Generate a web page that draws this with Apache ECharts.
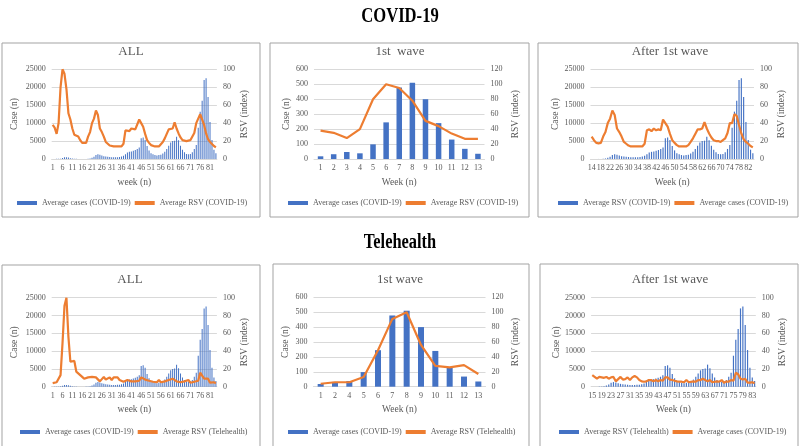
<!DOCTYPE html>
<html><head><meta charset="utf-8">
<script src="https://cdn.jsdelivr.net/npm/echarts@6/dist/echarts.min.js"></script>
<style>html,body{margin:0;padding:0;background:#fff}#c{width:800px;height:446px}</style>
</head><body><div id="c"></div>
<script>
// ---------- DATA ----------
const weeksAll = [1,2,3,4,5,6,7,8,9,10,11,12,13,14,15,16,17,18,19,20,21,22,23,24,25,26,27,28,29,30,31,32,33,34,35,36,37,38,39,40,41,42,43,44,45,46,47,48,49,50,51,52,53,54,55,56,57,58,59,60,61,62,63,64,65,66,67,68,69,70,71,72,73,74,75,76,77,78,79,80,81,82,83,84];
const casesAll = [18,32,47,38,98,245,478,510,400,240,130,68,35,
  20,15,12,15,30,60,150,350,650,1100,1300,1150,950,800,700,600,550,500,480,500,520,580,700,900,1300,1800,2000,2100,2300,2500,2800,3200,5800,6000,5300,3600,2400,1600,1300,1100,1000,1100,1200,1500,2000,2800,3700,4600,5000,5100,6200,5200,3700,2600,1900,1400,1300,1400,1900,2800,3900,8700,13200,16200,22000,22500,17300,10300,5300,2600,1600];
const rsvCovidAll = [38,35,28,40,80,100,95,78,51,44,34,27,27,
  25,21,18,17.5,18,25,30,40,45,54,49,34,30,25,19,17,15,14,14,14,14,14,14,17,32,33,31,34,32,33,32,44,40,36,28,21,18,15.5,14,14,14,14,15.5,19,23,28,33,33,34,41,34,28.5,24,21,20,20,19,21,23,29,40,40,50,48,38,28.5,22,19,17,14.5,13];
const rsvTeleAll = [4,6,5,6,13,49,91,100,56,28,26,29,17,
  15,13,11,9,11,10.5,10,11,9,10.5,11,6,8.5,11,8,8.5,10.5,7.5,10.5,12,10.5,7.5,6,5.6,6,7.5,7.5,6,7.5,6,7.5,6.7,10.5,10.5,8,7.5,6.7,6,5.6,5.6,5,7.5,5,5.6,6,5.6,7.5,7.5,9,7.5,6,7.5,5,5.6,6,5.6,7.5,4.5,6,5.6,7.5,6.7,15.7,14,9,8,9,4.5,4.5,5,4];

const wave1Weeks = [1,2,3,4,5,6,7,8,9,10,11,12,13];
const wave1Cases = [18,32,47,38,98,245,478,510,400,240,130,68,35];
const wave1RsvCovid = [38,35,28,40,80,100,95,78,51,44,34,27,27];

const wave1TeleWeeks = [1,2,4,5,6,7,8,9,10,11,12,13];
const wave1TeleCases = [18,32,38,98,245,478,510,400,240,130,68,35];
const wave1RsvTele = [4,6,6,13,49,91,100,56,28,26,29,17];

const afterCovidFirstWeek = 14;
const afterTeleFirstWeek = 15;

const afterCovidWeeks = weeksAll.slice(afterCovidFirstWeek - 1);
const afterCovidCases = casesAll.slice(afterCovidFirstWeek - 1);
const afterCovidRsv = rsvCovidAll.slice(afterCovidFirstWeek - 1);
const afterTeleWeeks = weeksAll.slice(afterTeleFirstWeek - 1);
const afterTeleCases = casesAll.slice(afterTeleFirstWeek - 1);
const afterTeleRsv = rsvTeleAll.slice(afterTeleFirstWeek - 1);

// ---------- STYLE ----------
const FONT = 'Liberation Serif';
const GREY = '#595959';
const BLUE = '#4472C4';
const ORANGE = '#ED7D31';

const panels = [
  {grid:{left:51.7,top:69.3,width:165.2,height:89.7}, cats:weeksAll, bars:casesAll, line:rsvCovidAll,
   lMax:25000,lInt:5000,rMax:100,rInt:20,xInt:4,xName:'week (n)',barW:'50%',
   barLbl:'Average cases (COVID-19)',lineLbl:'Average RSV (COVID-19)',legLeft:17,legTop:199,
   cGap:32,rGap:23,xGap:18,title:'ALL',tx:131,ty:52,box:[2,43,258,174]},
  {grid:{left:314,top:69.3,width:170.5,height:89.7}, cats:wave1Weeks, bars:wave1Cases, line:wave1RsvCovid,
   lMax:600,lInt:100,rMax:120,rInt:20,xInt:0,xName:'Week (n)',barW:'42%',
   barLbl:'Average cases (COVID-19)',lineLbl:'Average RSV (COVID-19)',legLeft:288,legTop:199,
   cGap:23,rGap:25.5,xGap:18,title:'1st  wave',tx:400,ty:52,box:[270,43,259,174]},
  {grid:{left:590.5,top:69.3,width:163.5,height:89.7}, cats:afterCovidWeeks, bars:afterCovidCases, line:afterCovidRsv,
   lMax:25000,lInt:5000,rMax:100,rInt:20,xInt:3,xName:'Week (n)',barW:'50%',
   barLbl:'Average RSV (COVID-19)',lineLbl:'Average cases (COVID-19)',legLeft:558,legTop:199,
   cGap:29,rGap:22.7,xGap:18,title:'After 1st wave',tx:670,ty:52,box:[538,43,260,174]},
  {grid:{left:51.7,top:297.7,width:165.2,height:89}, cats:weeksAll, bars:casesAll, line:rsvTeleAll,
   lMax:25000,lInt:5000,rMax:100,rInt:20,xInt:4,xName:'week (n)',barW:'50%',
   barLbl:'Average cases (COVID-19)',lineLbl:'Average RSV (Telehealth)',legLeft:20,legTop:428,
   cGap:32,rGap:23,xGap:17.5,title:'ALL',tx:130,ty:280,box:[2,265,258,190]},
  {grid:{left:313.5,top:297.3,width:172,height:89.4}, cats:wave1TeleWeeks, bars:wave1TeleCases, line:wave1RsvTele,
   lMax:600,lInt:100,rMax:120,rInt:20,xInt:0,xName:'Week (n)',barW:'42%',
   barLbl:'Average cases (COVID-19)',lineLbl:'Average RSV (Telehealth)',legLeft:288,legTop:428,
   cGap:23,rGap:24.5,xGap:17.5,title:'1st wave',tx:400,ty:280,box:[273,264,256,190]},
  {grid:{left:591.1,top:297.7,width:164.7,height:89}, cats:afterTeleWeeks, bars:afterTeleCases, line:afterTeleRsv,
   lMax:25000,lInt:5000,rMax:100,rInt:20,xInt:3,xName:'Week (n)',barW:'50%',
   barLbl:'Average RSV (Telehealth)',lineLbl:'Average cases (COVID-19)',legLeft:559,legTop:428,
   cGap:29,rGap:22,xGap:17.5,title:'After 1st wave',tx:670,ty:280,box:[540,264,258,190]}
];

const labelMap = {};
const grids = [], xAxes = [], yAxes = [], series = [], legends = [], graphics = [];
const plain = v => String(v);

panels.forEach((p, i) => {
  grids.push(Object.assign({containLabel:false}, p.grid));
  xAxes.push({
    type:'category', gridIndex:i, data:p.cats.map(String),
    name:p.xName, nameLocation:'middle', nameGap:p.xGap,
    nameTextStyle:{fontFamily:FONT,fontSize:9.5,color:GREY},
    axisLine:{show:true,lineStyle:{color:'#d9d9d9',width:1}},
    axisTick:{show:false},
    axisLabel:{interval:p.xInt,fontFamily:FONT,fontSize:8,color:GREY,margin:5}
  });
  yAxes.push({
    type:'value', gridIndex:i, position:'left', min:0, max:p.lMax, interval:p.lInt,
    name:'Case (n)', nameLocation:'middle', nameGap:p.cGap,
    nameTextStyle:{fontFamily:FONT,fontSize:9.5,color:GREY},
    axisLine:{show:false}, axisTick:{show:false},
    axisLabel:{fontFamily:FONT,fontSize:8,color:GREY,margin:6,formatter:plain},
    splitLine:{show:true,lineStyle:{color:'#d9d9d9',width:1}}
  });
  yAxes.push({
    type:'value', gridIndex:i, position:'right', min:0, max:p.rMax, interval:p.rInt,
    name:'RSV (index)', nameLocation:'middle', nameGap:p.rGap,
    nameTextStyle:{fontFamily:FONT,fontSize:9.5,color:GREY},
    axisLine:{show:false}, axisTick:{show:false},
    axisLabel:{fontFamily:FONT,fontSize:8,color:GREY,margin:6,formatter:plain},
    splitLine:{show:false}
  });
  const bName = 'bar' + i, lName = 'line' + i;
  labelMap[bName] = p.barLbl; labelMap[lName] = p.lineLbl;
  series.push({
    type:'bar', name:bName, xAxisIndex:i, yAxisIndex:2*i, data:p.bars,
    barWidth:p.barW, itemStyle:{color:BLUE}, animation:false
  });
  series.push({
    type:'line', name:lName, xAxisIndex:i, yAxisIndex:2*i+1, data:p.line,
    symbol:'none', lineStyle:{color:ORANGE,width:2.2}, itemStyle:{color:ORANGE}, animation:false
  });
  legends.push({
    data:[{name:bName,icon:'rect'},{name:lName,icon:'rect'}],
    left:p.legLeft, top:p.legTop, itemWidth:20, itemHeight:4, itemGap:4,
    padding:0, selectedMode:false,
    formatter:n => labelMap[n],
    textStyle:{fontFamily:FONT,fontSize:8,color:GREY}
  });
  graphics.push({
    type:'rect', shape:{x:p.box[0],y:p.box[1],width:p.box[2],height:p.box[3]},
    style:{fill:'none',stroke:'#a3a3a3',lineWidth:1}, silent:true, z:-1
  });
  graphics.push({
    type:'text', x:p.tx, y:p.ty,
    style:{text:p.title,font:'13px "Liberation Serif"',fill:GREY,align:'center',verticalAlign:'middle',
      textAlign:'center',textVerticalAlign:'middle'}
  });
});

graphics.push({type:'text', x:400, y:17, scaleX:0.83,
  style:{text:'COVID-19',font:'bold 20px "Liberation Serif"',fill:'#000',align:'center',verticalAlign:'middle',textAlign:'center',textVerticalAlign:'middle'}});
graphics.push({type:'text', x:400, y:243, scaleX:0.82,
  style:{text:'Telehealth',font:'bold 20px "Liberation Serif"',fill:'#000',align:'center',verticalAlign:'middle',textAlign:'center',textVerticalAlign:'middle'}});

const chart = echarts.init(document.getElementById('c'), null, {renderer:'canvas'});
chart.setOption({
  animation:false,
  backgroundColor:'#fff',
  grid:grids, xAxis:xAxes, yAxis:yAxes, series:series, legend:legends, graphic:graphics
});
</script></body></html>
